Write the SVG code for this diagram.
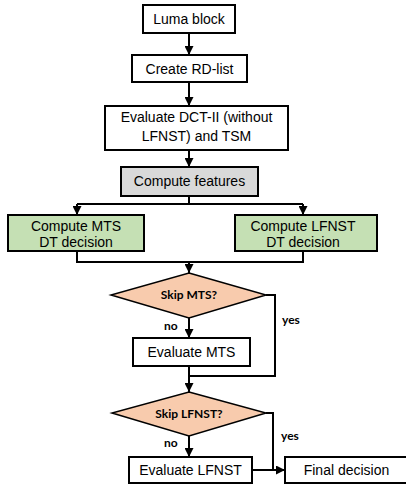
<svg xmlns="http://www.w3.org/2000/svg" width="406" height="485" viewBox="0 0 406 485">
  <style>
    .box { fill: #ffffff; stroke: #000000; stroke-width: 2; }
    .gray { fill: #d9d9d9; }
    .green { fill: #c5e0b4; }
    .dia { fill: #f8cbad; stroke: #000000; stroke-width: 1.5; }
    .lbl { font-family: "Liberation Sans", Arial, sans-serif; font-size: 14px; fill: #000000; text-anchor: middle; }
    .dlbl { font-family: Lato, "Open Sans", sans-serif; font-weight: bold; font-size: 12px; fill: #000000; text-anchor: middle; }
    .edge { font-family: Lato, "Open Sans", sans-serif; font-weight: bold; font-size: 12px; fill: #000000; }
    .wire { fill: none; stroke: #000000; stroke-width: 2; }
  </style>
  <defs>
    <marker id="arrow" viewBox="0 0 10 10" refX="10" refY="5" markerWidth="4.5" markerHeight="4.5" orient="auto" markerUnits="strokeWidth">
      <path d="M0,0 L10,5 L0,10 z" fill="#000000"/>
    </marker>
  </defs>

  <!-- connectors -->
  <g id="connectors">
    <path class="wire" d="M189,33 V55" marker-end="url(#arrow)"/>
    <path class="wire" d="M189,82 V106" marker-end="url(#arrow)"/>
    <path class="wire" d="M189,150 V167" marker-end="url(#arrow)"/>
    <path class="wire" d="M189,196 V204"/>
    <path class="wire" d="M77,204 H303"/>
    <path class="wire" d="M77,204 V215" marker-end="url(#arrow)"/>
    <path class="wire" d="M303,204 V215" marker-end="url(#arrow)"/>
    <path class="wire" d="M77,251 V262 H303 V251"/>
    <path class="wire" d="M189,262 V273" marker-end="url(#arrow)"/>
    <path class="wire" d="M189,318 V338" marker-end="url(#arrow)"/>
    <path class="wire" d="M266,295 H275 V376 H189"/>
    <path class="wire" d="M189,366 V392" marker-end="url(#arrow)"/>
    <path class="wire" d="M189,436 V457" marker-end="url(#arrow)"/>
    <path class="wire" d="M266,413 H273 V470"/>
    <path class="wire" d="M252,470 H285" marker-end="url(#arrow)"/>
    <text class="edge" x="164" y="330">no</text>
    <text class="edge" x="282" y="324">yes</text>
    <text class="edge" x="164" y="447">no</text>
    <text class="edge" x="281" y="440">yes</text>
  </g>

  <!-- nodes -->
  <g id="luma-block">
    <rect class="box" x="143" y="5" width="92" height="28"/>
    <text class="lbl" x="189" y="24">Luma block</text>
  </g>
  <g id="create-rd-list">
    <rect class="box" x="132" y="55" width="115" height="27"/>
    <text class="lbl" x="189.5" y="74">Create RD-list</text>
  </g>
  <g id="evaluate-dct">
    <rect class="box" x="105" y="106" width="183" height="44"/>
    <text class="lbl" x="196.5" y="122">Evaluate DCT-II (without</text>
    <text class="lbl" x="196.5" y="141">LFNST) and TSM</text>
  </g>
  <g id="compute-features">
    <rect class="box gray" x="121" y="167" width="137" height="29"/>
    <text class="lbl" x="189.5" y="186">Compute features</text>
  </g>
  <g id="mts-dt">
    <rect class="box green" x="8" y="215" width="136" height="36"/>
    <text class="lbl" x="76" y="231">Compute MTS</text>
    <text class="lbl" x="76" y="247">DT decision</text>
  </g>
  <g id="lfnst-dt">
    <rect class="box green" x="235" y="215" width="142" height="36"/>
    <text class="lbl" x="303" y="231">Compute LFNST</text>
    <text class="lbl" x="303" y="247">DT decision</text>
  </g>
  <g id="skip-mts">
    <polygon class="dia" points="189,273 266,295 189,318 111,295"/>
    <text class="dlbl" x="189" y="299">Skip MTS?</text>
  </g>
  <g id="evaluate-mts">
    <rect class="box" x="133" y="338" width="117" height="28"/>
    <text class="lbl" x="191.5" y="357">Evaluate MTS</text>
  </g>
  <g id="skip-lfnst">
    <polygon class="dia" points="189,392 266,413 189,436 112,413"/>
    <text class="dlbl" x="189" y="418">Skip LFNST?</text>
  </g>
  <g id="evaluate-lfnst">
    <rect class="box" x="129" y="457" width="123" height="26"/>
    <text class="lbl" x="190.5" y="475">Evaluate LFNST</text>
  </g>
  <g id="final-decision">
    <rect class="box" x="285" y="457" width="124" height="26"/>
    <text class="lbl" x="346.5" y="475">Final decision</text>
  </g>
</svg>
